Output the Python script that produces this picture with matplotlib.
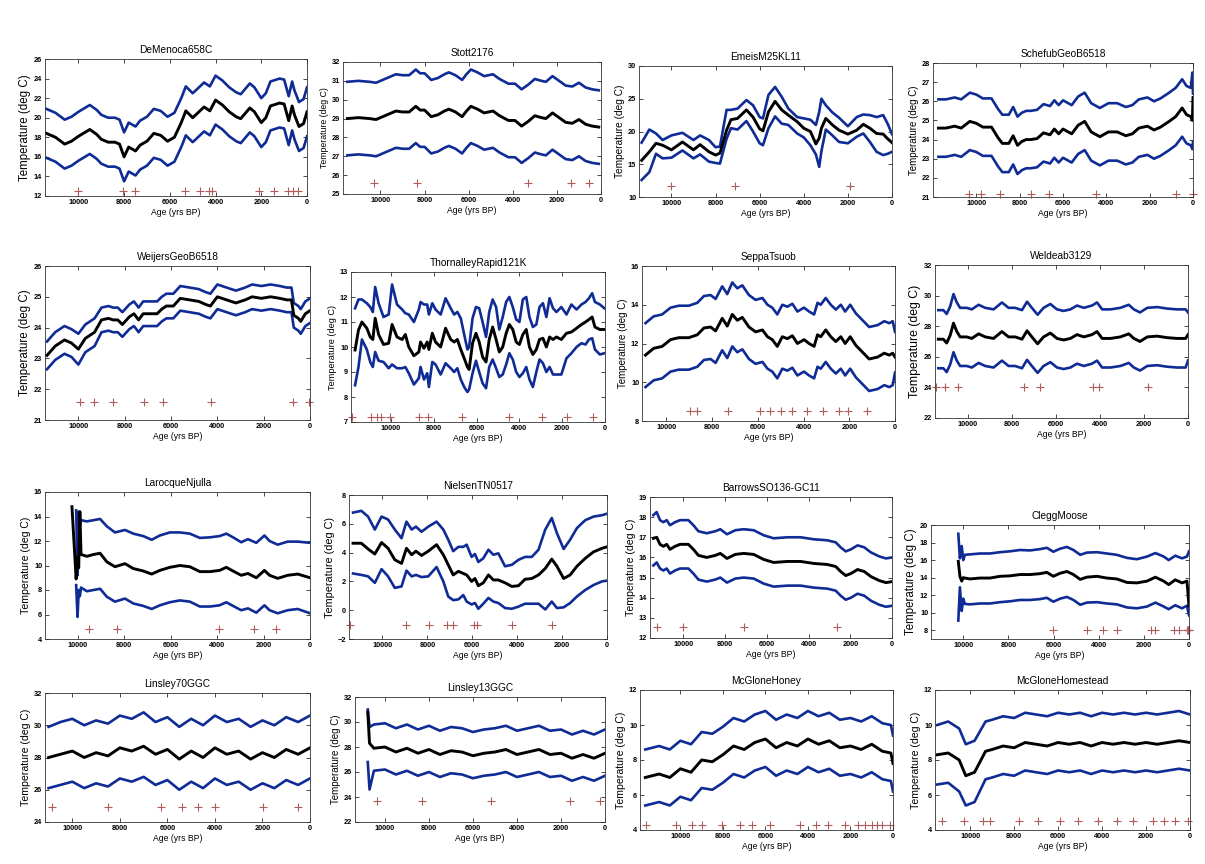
import numpy as np
import matplotlib
matplotlib.use("Agg")
import matplotlib.pyplot as plt

plt.rcParams['font.family'] = ['Liberation Sans', 'DejaVu Sans']
plt.rcParams['font.weight'] = 'bold'

nan = np.nan
BLUE = '#0f2b95'
RED = '#b05c5c'

# DeMenoca658C
age_demenoca = [11400, 11000, 10600, 10300, 10000, 9500, 9200, 9000, 8700, 8400, 8200, 8000, 7800, 7500, 7300,
                7000, 6700, 6400, 6100, 5800, 5500, 5300, 5000, 4500, 4250, 4000, 3700, 3400, 3100, 2900,
                2500, 2300, 2000, 1800, 1600, 1200, 1000, 800, 650, 550, 350, 150, 0]
mean_demenoca = [18.4, 18.0, 17.3, 17.6, 18.1, 18.8, 18.3, 17.8, 17.5, 17.5, 17.3, 16.0, 17.0, 16.6, 17.2,
                 17.6, 18.4, 18.2, 17.6, 18.0, 19.5, 20.7, 20.0, 21.1, 20.7, 21.8, 21.3, 20.6, 20.1, 19.9,
                 21.0, 20.6, 19.5, 20.0, 21.2, 21.5, 21.4, 19.7, 21.2, 20.3, 19.1, 19.4, 20.6]
upper_demenoca = [20.9, 20.5, 19.8, 20.1, 20.6, 21.3, 20.8, 20.3, 20.0, 20.0, 19.8, 18.5, 19.5, 19.1, 19.7,
                  20.1, 20.9, 20.7, 20.1, 20.5, 22.0, 23.2, 22.5, 23.6, 23.2, 24.3, 23.8, 23.1, 22.6, 22.4,
                  23.5, 23.1, 22.0, 22.5, 23.7, 24.0, 23.9, 22.2, 23.7, 22.8, 21.6, 21.9, 23.1]
lower_demenoca = [15.9, 15.5, 14.8, 15.1, 15.6, 16.3, 15.8, 15.3, 15.0, 15.0, 14.8, 13.5, 14.5, 14.1, 14.7,
                  15.1, 15.9, 15.7, 15.1, 15.5, 17.0, 18.2, 17.5, 18.6, 18.2, 19.3, 18.8, 18.1, 17.6, 17.4,
                  18.5, 18.1, 17.0, 17.5, 18.7, 19.0, 18.9, 17.2, 18.7, 17.8, 16.6, 16.9, 18.1]
dates_demenoca = [10000, 8030, 7520, 5330, 4670, 4300, 4160, 2120, 1430, 850, 610, 390]

# Stott2176
age_stott = [11500, 11000, 10500, 10200, 10000, 9700, 9300, 9000, 8700, 8400, 8200, 8000, 7700, 7400, 7100,
             6900, 6600, 6300, 6100, 5900, 5600, 5300, 4900, 4600, 4200, 3900, 3600, 3300, 3000, 2700,
             2500, 2200, 1900, 1600, 1300, 1000, 700, 400, 100]
mean_stott = [29.0, 29.05, 29.0, 28.95, 29.05, 29.2, 29.4, 29.35, 29.35, 29.65, 29.45, 29.45, 29.1, 29.2, 29.4,
              29.5, 29.35, 29.1, 29.4, 29.65, 29.5, 29.3, 29.4, 29.15, 28.9, 28.9, 28.6, 28.85, 29.15, 29.05,
              29.0, 29.3, 29.05, 28.8, 28.75, 28.95, 28.7, 28.6, 28.55]
upper_stott = [30.95, 31.0, 30.95, 30.9, 31.0, 31.15, 31.35, 31.3, 31.3, 31.6, 31.4, 31.4, 31.05, 31.15, 31.35,
               31.45, 31.3, 31.05, 31.35, 31.6, 31.45, 31.25, 31.35, 31.1, 30.85, 30.85, 30.55, 30.8, 31.1, 31.0,
               30.95, 31.25, 31.0, 30.75, 30.7, 30.9, 30.65, 30.55, 30.5]
lower_stott = [27.05, 27.1, 27.05, 27.0, 27.1, 27.25, 27.45, 27.4, 27.4, 27.7, 27.5, 27.5, 27.15, 27.25, 27.45,
               27.55, 27.4, 27.15, 27.45, 27.7, 27.55, 27.35, 27.45, 27.2, 26.95, 26.95, 26.65, 26.9, 27.2, 27.1,
               27.05, 27.35, 27.1, 26.85, 26.8, 27.0, 26.75, 26.65, 26.6]
dates_stott = [10300, 8350, 3300, 1380, 560]

# EmeisM25KL11
age_emeis = [11350, 11000, 10700, 10400, 10000, 9500, 9000, 8700, 8300, 8000, 7800, 7500, 7300, 7000, 6600,
             6300, 6000, 5850, 5600, 5300, 5000, 4700, 4300, 4000, 3700, 3450, 3300, 3200, 3000, 2700,
             2400, 2000, 1600, 1300, 1000, 700, 400, 200, 0]
mean_emeis = [15.6, 16.9, 18.2, 17.9, 17.2, 18.4, 17.2, 18.0, 16.9, 16.4, 16.7, 20.2, 21.8, 22.0, 23.3,
              22.2, 20.4, 20.1, 23.0, 24.6, 23.3, 22.5, 21.5, 20.5, 20.0, 18.1, 19.0, 20.5, 22.0, 21.0,
              20.2, 19.6, 20.2, 21.1, 20.5, 19.7, 19.6, 18.9, 18.3]
upper_emeis = [18.3, 20.3, 19.7, 18.7, 19.4, 19.8, 18.7, 19.4, 18.7, 17.6, 17.7, 23.3, 23.3, 23.5, 24.8,
               24.0, 22.2, 22.0, 25.6, 26.8, 25.3, 23.5, 22.2, 22.0, 21.8, 21.0, 23.0, 25.0, 24.0, 22.9,
               22.1, 20.8, 22.2, 22.6, 22.5, 22.2, 22.5, 21.2, 19.6]
lower_emeis = [12.6, 13.8, 16.6, 15.9, 16.0, 17.1, 15.9, 16.5, 15.4, 15.2, 15.1, 18.9, 20.5, 20.3, 21.6,
               20.0, 18.2, 17.9, 20.5, 22.3, 21.2, 21.0, 19.7, 19.1, 17.9, 16.5, 14.6, 17.0, 20.3, 19.4,
               18.4, 18.2, 19.2, 19.7, 18.4, 16.9, 16.4, 16.6, 16.9]
dates_emeis = [10000, 7130, 1920]

# SchefubGeoB6518
age_schefub = [11750, 11400, 11000, 10700, 10300, 10000, 9700, 9300, 9000, 8800, 8500, 8300, 8100, 7900,
               7700, 7500, 7200, 6900, 6600, 6400, 6200, 6000, 5600, 5300, 5000, 4700, 4300, 3900, 3500,
               3100, 2800, 2500, 2100, 1800, 1500, 1100, 800, 500, 300, 100, 30, 0]
mean_schefub = [24.6, 24.6, 24.7, 24.6, 24.95, 24.85, 24.65, 24.65, 24.1, 23.8, 23.8, 24.2, 23.7, 23.9,
                24.0, 24.0, 24.05, 24.35, 24.25, 24.55, 24.3, 24.55, 24.3, 24.75, 24.95, 24.4, 24.15, 24.4, 24.4,
                24.2, 24.3, 24.6, 24.7, 24.5, 24.65, 24.95, 25.2, 25.65, 25.3, 25.2, 25.0, 26.2]
upper_schefub = [26.1, 26.1, 26.2, 26.1, 26.45, 26.35, 26.15, 26.15, 25.6, 25.3, 25.3, 25.7, 25.2, 25.4,
                 25.5, 25.5, 25.55, 25.85, 25.75, 26.05, 25.8, 26.05, 25.8, 26.25, 26.45, 25.9, 25.65, 25.9, 25.9,
                 25.7, 25.8, 26.1, 26.2, 26.0, 26.15, 26.45, 26.7, 27.15, 26.8, 26.7, 27.5, 26.4]
lower_schefub = [23.1, 23.1, 23.2, 23.1, 23.45, 23.35, 23.15, 23.15, 22.6, 22.3, 22.3, 22.7, 22.2, 22.4,
                 22.5, 22.5, 22.55, 22.85, 22.75, 23.05, 22.8, 23.05, 22.8, 23.25, 23.45, 22.9, 22.65, 22.9, 22.9,
                 22.7, 22.8, 23.1, 23.2, 23.0, 23.15, 23.45, 23.7, 24.15, 23.8, 23.7, 23.5, 23.9]
dates_schefub = [10350, 9770, 8920, 7460, 6630, 4460, 800, 20]

# WeijersGeoB6518
age_weijers = [11350, 11000, 10600, 10300, 10000, 9700, 9300, 9000, 8700, 8500, 8300, 8100, 7800, 7600,
               7400, 7200, 6900, 6600, 6400, 6200, 5900, 5600, 5200, 4800, 4500, 4300, 4000, 3600, 3200,
               2800, 2500, 2100, 1700, 1300, 1000, 800, 700, 500, 400, 200, 0]
mean_weijers = [23.1, 23.4, 23.6, 23.5, 23.3, 23.65, 23.85, 24.25, 24.3, 24.25, 24.25, 24.1, 24.35, 24.45,
                24.25, 24.45, 24.45, 24.45, 24.6, 24.7, 24.7, 24.95, 24.9, 24.85, 24.75, 24.7, 25.0, 24.9, 24.8,
                24.9, 25.0, 24.95, 25.0, 24.95, 24.9, 24.9, 24.4, 24.3, 24.2, 24.45, 24.55]
upper_weijers = [23.55, 23.85, 24.05, 23.95, 23.8, 24.1, 24.3, 24.65, 24.7, 24.65, 24.65, 24.5, 24.75, 24.85,
                 24.65, 24.85, 24.85, 24.85, 25.0, 25.1, 25.1, 25.35, 25.3, 25.25, 25.15, 25.1, 25.4, 25.3, 25.2,
                 25.3, 25.4, 25.35, 25.4, 25.35, 25.3, 25.3, 24.8, 24.7, 24.6, 24.85, 24.95]
lower_weijers = [22.65, 22.95, 23.15, 23.05, 22.8, 23.2, 23.4, 23.85, 23.9, 23.85, 23.85, 23.7, 23.95, 24.05,
                 23.85, 24.05, 24.05, 24.05, 24.2, 24.3, 24.3, 24.55, 24.5, 24.45, 24.35, 24.3, 24.6, 24.5, 24.4,
                 24.5, 24.6, 24.55, 24.6, 24.55, 24.5, 24.5, 24.0, 23.9, 23.8, 24.05, 24.15]
dates_weijers = [9930, 9320, 8520, 7150, 6350, 4280, 730, 60]

# ThornalleyRapid121K
age_thornalley = [11680, 11520, 11360, 11130, 10970, 10850, 10740, 10580, 10350, 10110,
                  9950, 9720, 9480, 9330, 9170, 8930, 8700, 8620, 8460, 8310,
                  8230, 8070, 7920, 7680, 7450, 7210, 7050, 6900, 6740, 6580,
                  6430, 6350, 6190, 6030, 5880, 5720, 5560, 5410, 5250, 5090,
                  4940, 4780, 4620, 4470, 4310, 4150, 4000, 3840, 3680, 3530,
                  3370, 3210, 3060, 2900, 2740, 2590, 2430, 2270, 2040, 1800,
                  1570, 1330, 1100, 910, 750, 600, 470, 240, 30]
mean_thornalley = [9.88, 10.68, 11.0, 10.75, 10.4, 10.3, 11.15, 10.5, 10.1, 10.15,
                   10.9, 10.4, 10.3, 10.5, 10.0, 9.65, 9.8, 10.2, 9.95, 10.2,
                   9.9, 10.55, 10.2, 10.0, 10.75, 10.3, 10.2, 10.3, 9.9, 9.55,
                   9.2, 9.1, 10.15, 10.55, 10.2, 9.6, 9.4, 10.3, 10.8, 10.3,
                   9.8, 10.0, 10.55, 10.9, 10.7, 10.2, 10.1, 10.5, 10.7, 10.0,
                   9.7, 9.9, 10.3, 10.35, 10.0, 10.4, 10.3, 10.4, 10.3, 10.55,
                   10.6, 10.75, 10.9, 11.0, 11.1, 11.2, 10.8, 10.7, 10.7]
upper_thornalley = [11.55, 11.9, 11.9, 11.75, 11.6, 11.4, 12.4, 11.75, 11.2, 11.3,
                    12.5, 11.7, 11.5, 11.35, 11.3, 11.0, 11.5, 11.8, 11.7, 11.7,
                    11.3, 11.75, 11.5, 11.3, 11.95, 11.55, 11.3, 11.4, 11.15, 10.5,
                    9.9, 10.0, 11.15, 11.6, 11.55, 11.0, 10.4, 11.4, 11.9, 11.6,
                    10.7, 11.2, 11.8, 12.0, 11.6, 11.1, 11.0, 11.9, 12.0, 11.2,
                    10.8, 10.9, 11.6, 11.75, 11.2, 11.95, 11.55, 11.4, 11.6, 11.3,
                    11.7, 11.5, 11.7, 11.8, 11.95, 12.15, 11.8, 11.7, 11.55]
lower_thornalley = [8.47, 9.2, 10.3, 9.9, 9.4, 9.2, 9.8, 9.45, 9.4, 9.15,
                    9.3, 9.15, 9.15, 9.2, 8.95, 8.5, 8.75, 9.2, 8.7, 8.95,
                    8.4, 9.4, 9.3, 8.9, 9.35, 9.15, 9.0, 9.15, 8.7, 8.4,
                    8.2, 8.3, 8.95, 9.45, 9.0, 8.55, 8.35, 9.2, 9.5, 9.15,
                    8.8, 8.9, 9.3, 9.75, 9.5, 9.0, 8.8, 8.95, 9.2, 8.7,
                    8.4, 9.0, 9.5, 9.35, 9.0, 9.2, 8.9, 8.9, 8.9, 9.55,
                    9.75, 10.0, 10.15, 10.1, 10.3, 10.35, 9.9, 9.7, 9.75]
dates_thornalley = [11800, 10940, 10660, 10450, 10060, 8700, 8260, 6690, 4500, 2930, 1770, 580]

# SeppaTsuob
age_seppa = [10920, 10560, 10190, 9820, 9460, 9020, 8650, 8360, 8070, 7850, 7560, 7340, 7120, 6900, 6680,
             6390, 6100, 5800, 5580, 5370, 5150, 4930, 4710, 4490, 4270, 3980, 3760, 3540, 3390, 3250,
             3030, 2810, 2590, 2370, 2180, 1960, 1710, 1420, 1130, 760, 470, 250, 100, 0]
mean_seppa = [11.4, 11.75, 11.85, 12.2, 12.3, 12.3, 12.45, 12.8, 12.85, 12.65, 13.3, 12.9, 13.5, 13.2, 13.35,
              12.85, 12.6, 12.7, 12.35, 12.2, 11.85, 12.35, 12.25, 12.4, 12.0, 12.2, 12.0, 11.85, 12.45, 12.35,
              12.7, 12.35, 12.1, 12.35, 12.0, 12.35, 11.9, 11.55, 11.2, 11.3, 11.5, 11.4, 11.5, 11.3]
upper_seppa = [13.05, 13.4, 13.5, 13.85, 13.95, 13.95, 14.1, 14.45, 14.5, 14.3, 14.95, 14.55, 15.15, 14.85, 15.0,
               14.5, 14.25, 14.35, 14.0, 13.85, 13.5, 14.0, 13.9, 14.05, 13.65, 13.85, 13.65, 13.5, 14.1, 14.0,
               14.35, 14.0, 13.75, 14.0, 13.65, 14.0, 13.55, 13.2, 12.85, 12.95, 13.15, 13.05, 13.15, 12.6]
lower_seppa = [9.75, 10.1, 10.2, 10.55, 10.65, 10.65, 10.8, 11.15, 11.2, 11.0, 11.65, 11.25, 11.85, 11.55, 11.7,
               11.2, 10.95, 11.05, 10.7, 10.55, 10.2, 10.7, 10.6, 10.75, 10.35, 10.55, 10.35, 10.2, 10.8, 10.7,
               11.05, 10.7, 10.45, 10.7, 10.35, 10.7, 10.25, 9.9, 9.55, 9.65, 9.85, 9.75, 9.85, 10.5]
dates_seppa = [8980, 8650, 7310, 5910, 5480, 5000, 4490, 3870, 3140, 2470, 2050, 1240]

# Weldeab3129
age_weldeab = [11340, 11110, 10960, 10800, 10650, 10500, 10350, 10050, 9820, 9510, 9210, 8830, 8450, 8150,
               7850, 7540, 7310, 7090, 6830, 6560, 6250, 5950, 5650, 5340, 5040, 4730, 4360, 4130, 3900,
               3520, 3070, 2690, 2460, 2180, 1850, 1400, 940, 490, 110, 0]
mean_weldeab = [27.15, 27.15, 26.9, 27.4, 28.2, 27.65, 27.3, 27.3, 27.2, 27.5, 27.3, 27.2, 27.65, 27.3,
                27.3, 27.15, 27.7, 27.3, 26.85, 27.3, 27.55, 27.2, 27.1, 27.2, 27.45, 27.3, 27.45, 27.65, 27.2,
                27.2, 27.3, 27.5, 27.2, 27.0, 27.3, 27.35, 27.25, 27.2, 27.2, 27.45]
upper_weldeab = [29.05, 29.05, 28.8, 29.3, 30.1, 29.55, 29.2, 29.2, 29.1, 29.4, 29.2, 29.1, 29.55, 29.2,
                 29.2, 29.05, 29.6, 29.2, 28.75, 29.2, 29.45, 29.1, 29.0, 29.1, 29.35, 29.2, 29.35, 29.55, 29.1,
                 29.1, 29.2, 29.4, 29.1, 28.9, 29.2, 29.25, 29.15, 29.1, 29.1, 28.9]
lower_weldeab = [25.25, 25.25, 25.0, 25.5, 26.3, 25.75, 25.4, 25.4, 25.3, 25.6, 25.4, 25.3, 25.75, 25.4,
                 25.4, 25.25, 25.8, 25.4, 24.95, 25.4, 25.65, 25.3, 25.2, 25.3, 25.55, 25.4, 25.55, 25.75, 25.3,
                 25.3, 25.4, 25.6, 25.3, 25.1, 25.4, 25.45, 25.35, 25.3, 25.3, 25.75]
dates_weldeab = [11440, 11040, 10430, 7440, 6740, 4320, 4020, 1820]

# LarocqueNjulla
age_larocque = [10240, 10060, 10000, 9950, 9900, 9850, 9600, 9310, 9030, 8740, 8390, 7960, 7600, 7170, 6810,
                6460, 6030, 5600, 5170, 4740, 4310, 3890, 3600, 3310, 2960, 2670, 2310, 1960, 1740, 1390,
                960, 530, 0]
mean_larocque = [14.8, 8.9, 10.7, 9.8, 14.4, 10.9, 10.75, 10.9, 11.0, 10.3, 9.9, 10.15, 9.75, 9.55, 9.3,
                 9.6, 9.85, 10.0, 9.9, 9.5, 9.5, 9.6, 9.85, 9.55, 9.2, 9.35, 9.0, 9.6, 9.2, 8.95,
                 9.2, 9.3, 9.0]
upper_larocque = [nan, 14.5, 9.2, 14.4, 13.3, 13.7, 13.6, 13.7, 13.8, 13.2, 12.7, 12.9, 12.6, 12.4, 12.1,
                  12.45, 12.7, 12.7, 12.6, 12.25, 12.3, 12.4, 12.6, 12.3, 11.9, 12.15, 11.85, 12.45, 12.0, 11.7,
                  11.95, 11.95, 11.85]
lower_larocque = [nan, 8.4, 5.8, 8.0, 7.5, 8.2, 7.9, 8.0, 8.1, 7.45, 7.05, 7.3, 6.9, 6.7, 6.45,
                  6.75, 7.0, 7.15, 7.05, 6.65, 6.65, 6.75, 7.0, 6.7, 6.35, 6.5, 6.15, 6.75, 6.35, 6.1,
                  6.35, 6.45, 6.1]
dates_larocque = [9490, 8310, 3930, 2390, 1460]

# NielsenTN0517
age_nielsen = [11310, 10940, 10640, 10340, 10040, 9750, 9450, 9150, 8930, 8700, 8510, 8260, 7960, 7590, 7290,
               7070, 6850, 6620, 6400, 6250, 6030, 5880, 5730, 5510, 5280, 5060, 4840, 4540, 4240, 3940,
               3650, 3350, 3050, 2750, 2460, 2230, 1930, 1640, 1340, 970, 600, 220, 0]
mean_nielsen = [4.65, 4.65, 4.25, 3.9, 4.7, 4.3, 3.5, 3.25, 4.3, 3.85, 4.1, 3.8, 4.1, 4.55, 3.85,
                3.15, 2.45, 2.7, 2.55, 2.45, 2.0, 2.2, 1.7, 1.9, 2.45, 2.1, 2.1, 1.9, 1.65, 1.7,
                2.15, 2.2, 2.45, 2.9, 3.55, 3.05, 2.2, 2.45, 3.05, 3.6, 4.05, 4.3, 4.4]
upper_nielsen = [6.78, 6.9, 6.5, 5.6, 6.5, 6.3, 5.6, 5.0, 6.15, 5.6, 5.8, 5.45, 5.8, 6.15, 5.6,
                 4.9, 4.1, 4.4, 4.4, 4.55, 3.7, 3.9, 3.35, 3.6, 4.2, 3.85, 3.95, 3.05, 3.15, 3.5,
                 3.7, 3.7, 4.2, 5.6, 6.4, 5.35, 4.25, 4.9, 5.7, 6.25, 6.5, 6.6, 6.7]
lower_nielsen = [2.55, 2.45, 2.35, 1.9, 2.85, 2.35, 1.55, 1.65, 2.75, 2.35, 2.45, 2.3, 2.35, 3.0, 2.0,
                 0.95, 0.7, 0.75, 1.05, 0.6, 0.4, 0.5, 0.1, 0.45, 0.85, 0.6, 0.5, 0.15, 0.1, 0.25,
                 0.45, 0.45, 0.45, 0.05, 0.6, 0.15, 0.2, 0.5, 0.95, 1.4, 1.75, 2.0, 2.05]
dates_nielsen = [11460, 8960, 7920, 7140, 6880, 5920, 5800, 4240, 2460]

# BarrowsSO136-GC11
age_barrows = [11440, 11280, 11120, 10960, 10800, 10640, 10400, 10160, 9920, 9760, 9520, 9280, 8880, 8470,
               8230, 7910, 7510, 7110, 6630, 6150, 5670, 5020, 4380, 3740, 3100, 2700, 2460, 2220, 1970,
               1650, 1330, 1010, 610, 290, 0]
mean_barrows = [16.95, 17.0, 16.65, 16.55, 16.65, 16.4, 16.55, 16.65, 16.65, 16.65, 16.4, 16.1, 16.0, 16.1,
                16.2, 15.95, 16.15, 16.2, 16.15, 15.9, 15.75, 15.8, 15.8, 15.7, 15.65, 15.55, 15.3, 15.1, 15.2,
                15.4, 15.3, 15.05, 14.85, 14.75, 14.8]
upper_barrows = [18.1, 18.25, 17.85, 17.75, 17.85, 17.6, 17.75, 17.85, 17.85, 17.85, 17.6, 17.3, 17.2, 17.3,
                 17.4, 17.15, 17.35, 17.4, 17.35, 17.1, 16.95, 17.0, 17.0, 16.9, 16.85, 16.75, 16.5, 16.3, 16.4,
                 16.6, 16.5, 16.25, 16.05, 15.95, 16.0]
lower_barrows = [15.6, 15.75, 15.45, 15.35, 15.45, 15.2, 15.35, 15.45, 15.45, 15.45, 15.2, 14.9, 14.8, 14.9,
                 15.0, 14.75, 14.95, 15.0, 14.95, 14.7, 14.55, 14.6, 14.6, 14.5, 14.45, 14.35, 14.1, 13.9, 14.0,
                 14.2, 14.1, 13.85, 13.65, 13.55, 13.6]
dates_barrows = [11280, 10000, 7110, 2660]

# CleggMoose
age_clegg = [10220, 10150, 10070, 10000, 9930, 9700, 9260, 8820, 8370, 7930, 7490, 7040, 6600, 6300, 6010,
             5710, 5410, 5120, 4820, 4530, 4080, 3640, 3200, 2750, 2310, 1860, 1490, 1120, 900, 610,
             310, 90, 0]
mean_clegg = [15.85, 14.15, 13.6, 14.0, 13.95, 13.85, 13.95, 13.95, 14.15, 14.2, 14.35, 14.35, 14.45, 14.6, 14.15,
              14.5, 14.7, 14.35, 13.8, 14.05, 14.15, 13.95, 13.85, 13.45, 13.4, 13.6, 14.05, 13.6, 13.2, 13.75,
              13.4, 13.6, 10.75]
upper_clegg = [19.0, 16.2, 17.6, 16.0, 16.6, 16.65, 16.75, 16.75, 16.9, 17.0, 17.15, 17.1, 17.25, 17.4, 16.95,
               17.3, 17.5, 17.15, 16.6, 16.85, 16.9, 16.75, 16.6, 16.25, 16.1, 16.4, 16.8, 16.4, 16.0, 16.5,
               16.2, 16.4, 17.0]
lower_clegg = [9.1, 12.9, 10.2, 11.6, 11.0, 10.95, 11.05, 11.05, 11.2, 11.3, 11.45, 11.45, 11.55, 11.7, 11.25,
               11.6, 11.8, 11.45, 10.9, 11.15, 11.2, 11.05, 10.95, 10.6, 10.5, 10.7, 11.15, 10.7, 10.4, 10.85,
               10.5, 10.8, 9.7]
dates_clegg = [6040, 4530, 3790, 3170, 1690, 1490, 650, 440, 90, 60, 40, 20, 0]

# Linsley70GGC
age_linsley70 = [11000, 10500, 10000, 9500, 9000, 8500, 8000, 7500, 7000, 6500, 6000, 5500, 5000, 4500,
                 4000, 3500, 3000, 2500, 2000, 1500, 1000, 500, 0]
mean_linsley70 = [28.0, 28.2, 28.4, 28.0, 28.3, 28.1, 28.6, 28.4, 28.7, 28.2, 28.5, 27.9, 28.4, 28.0,
                  28.6, 28.2, 28.4, 27.9, 28.3, 28.0, 28.5, 28.2, 28.6]
upper_linsley70 = [29.9, 30.2, 30.4, 30.0, 30.3, 30.1, 30.6, 30.4, 30.8, 30.2, 30.5, 29.9, 30.4, 30.0,
                   30.6, 30.2, 30.4, 29.9, 30.3, 30.0, 30.5, 30.2, 30.6]
lower_linsley70 = [26.1, 26.3, 26.5, 26.1, 26.4, 26.2, 26.7, 26.5, 26.8, 26.3, 26.6, 26.0, 26.5, 26.1,
                   26.7, 26.3, 26.5, 26.0, 26.4, 26.1, 26.6, 26.3, 26.7]
dates_linsley70 = [10850, 8510, 6260, 5400, 4720, 4000, 1960, 510]

# Linsley13GGC
age_linsley13 = [10780, 10700, 10500, 10000, 9500, 9000, 8500, 8000, 7500, 7000, 6500, 6000, 5500, 5000,
                 4500, 4000, 3500, 3000, 2500, 2000, 1500, 1000, 500, 0]
mean_linsley13 = [30.8, 28.3, 27.9, 28.0, 27.6, 27.9, 27.5, 27.8, 27.4, 27.7, 27.6, 27.3, 27.5, 27.6,
                  27.8, 27.4, 27.6, 27.8, 27.4, 27.5, 27.1, 27.4, 27.1, 27.5]
upper_linsley13 = [31.0, 29.6, 29.8, 29.9, 29.5, 29.8, 29.4, 29.7, 29.3, 29.6, 29.5, 29.2, 29.4, 29.5,
                   29.7, 29.3, 29.5, 29.7, 29.3, 29.4, 29.0, 29.3, 29.0, 29.4]
lower_linsley13 = [26.8, 24.6, 26.1, 26.2, 25.8, 26.1, 25.7, 26.0, 25.6, 25.9, 25.8, 25.5, 25.7, 25.8,
                   26.0, 25.6, 25.8, 26.0, 25.6, 25.7, 25.3, 25.6, 25.3, 25.7]
dates_linsley13 = [10360, 8320, 5180, 1590, 230]

# McGloneHoney
age_honey = [11650, 11000, 10500, 10000, 9500, 9000, 8500, 8000, 7500, 7000, 6500, 6000, 5500, 5000, 4500,
             4000, 3500, 3000, 2500, 2000, 1500, 1000, 500, 100, 0]
mean_honey = [7.0, 7.2, 7.0, 7.5, 7.3, 8.0, 7.9, 8.3, 8.8, 8.6, 9.0, 9.2, 8.7, 9.0, 8.8,
              9.2, 8.9, 9.1, 8.7, 8.8, 8.6, 8.9, 8.5, 8.4, 7.8]
upper_honey = [8.6, 8.8, 8.6, 9.1, 8.9, 9.6, 9.5, 9.9, 10.4, 10.2, 10.6, 10.8, 10.3, 10.6, 10.4,
               10.8, 10.5, 10.7, 10.3, 10.4, 10.2, 10.5, 10.1, 10.0, 9.4]
lower_honey = [5.4, 5.6, 5.4, 5.9, 5.7, 6.4, 6.3, 6.7, 7.2, 7.0, 7.4, 7.6, 7.1, 7.4, 7.2,
               7.6, 7.3, 7.5, 7.1, 7.2, 7.0, 7.3, 6.9, 6.8, 6.2]
dates_honey = [11640, 10230, 9440, 8970, 8030, 7180, 6620, 5770, 4370, 3620, 3050, 2250, 1640, 1310, 990,
               750, 520, 140]

# McGloneHomestead
age_homestead = [11500, 11000, 10500, 10200, 9800, 9300, 9000, 8500, 8000, 7500, 7000, 6500, 6000, 5500,
                 5000, 4500, 4000, 3500, 3000, 2500, 2000, 1500, 1000, 500, 0]
mean_homestead = [8.3, 8.4, 8.0, 7.1, 7.3, 8.5, 8.6, 8.8, 8.7, 9.0, 8.9, 8.8, 9.0, 8.9,
                  9.0, 8.8, 9.0, 8.9, 9.0, 8.9, 9.0, 8.9, 9.0, 9.1, 9.0]
upper_homestead = [10.0, 10.2, 9.8, 8.9, 9.1, 10.2, 10.3, 10.5, 10.4, 10.7, 10.6, 10.5, 10.7, 10.6,
                   10.7, 10.5, 10.7, 10.6, 10.7, 10.6, 10.7, 10.6, 10.7, 10.8, 10.6]
lower_homestead = [6.6, 6.7, 6.2, 5.4, 5.6, 6.9, 7.0, 7.2, 7.1, 7.4, 7.3, 7.2, 7.4, 7.3,
                   7.4, 7.2, 7.4, 7.3, 7.4, 7.3, 7.4, 7.3, 7.4, 7.5, 7.4]
dates_homestead = [11300, 10300, 9400, 9100, 7800, 6900, 5900, 5100, 4200, 3300, 2600, 1700, 1200, 700, 100]

# level at which the dating "+" marks sit
date_level = [12.5, 25.6, 11.7, 21.15, 21.6, 7.2, 8.5, 24.0, 4.8, -1.0, 12.55, 8.0, 24.9, 23.7, 4.3, 4.5]

panels = [
    ("DeMenoca658C", age_demenoca, mean_demenoca, upper_demenoca, lower_demenoca, dates_demenoca),
    ("Stott2176", age_stott, mean_stott, upper_stott, lower_stott, dates_stott),
    ("EmeisM25KL11", age_emeis, mean_emeis, upper_emeis, lower_emeis, dates_emeis),
    ("SchefubGeoB6518", age_schefub, mean_schefub, upper_schefub, lower_schefub, dates_schefub),
    ("WeijersGeoB6518", age_weijers, mean_weijers, upper_weijers, lower_weijers, dates_weijers),
    ("ThornalleyRapid121K", age_thornalley, mean_thornalley, upper_thornalley, lower_thornalley, dates_thornalley),
    ("SeppaTsuob", age_seppa, mean_seppa, upper_seppa, lower_seppa, dates_seppa),
    ("Weldeab3129", age_weldeab, mean_weldeab, upper_weldeab, lower_weldeab, dates_weldeab),
    ("LarocqueNjulla", age_larocque, mean_larocque, upper_larocque, lower_larocque, dates_larocque),
    ("NielsenTN0517", age_nielsen, mean_nielsen, upper_nielsen, lower_nielsen, dates_nielsen),
    ("BarrowsSO136-GC11", age_barrows, mean_barrows, upper_barrows, lower_barrows, dates_barrows),
    ("CleggMoose", age_clegg, mean_clegg, upper_clegg, lower_clegg, dates_clegg),
    ("Linsley70GGC", age_linsley70, mean_linsley70, upper_linsley70, lower_linsley70, dates_linsley70),
    ("Linsley13GGC", age_linsley13, mean_linsley13, upper_linsley13, lower_linsley13, dates_linsley13),
    ("McGloneHoney", age_honey, mean_honey, upper_honey, lower_honey, dates_honey),
    ("McGloneHomestead", age_homestead, mean_homestead, upper_homestead, lower_homestead, dates_homestead),
]

# axes boxes in pixels: left, top, right, bottom
boxes = [(45, 59, 307, 196), (343, 62, 601, 194), (639, 66, 892, 197), (933, 63, 1193, 197),
         (45, 266, 310, 420), (351, 272, 605, 422), (642, 266, 895, 421), (935, 265, 1188, 418),
         (45, 492, 310, 639), (349, 495, 607, 639), (650, 497, 892, 638), (931, 525, 1189, 639),
         (45, 693, 310, 822), (355, 697, 605, 822), (640, 690, 893, 830), (935, 690, 1190, 830)]

# oldest age on the axis, y range and y tick step
xmax = [11460, 11700, 11470, 12000, 11440, 11870, 11070, 11490,
        11400, 11490, 11600, 11430, 11150, 11360, 11900, 11600]
yrange = [(12, 26, 2), (25, 32, 1), (10, 30, 5), (21, 28, 1), (21, 26, 1), (7, 13, 1), (8, 16, 2), (22, 32, 2),
          (4, 16, 2), (-2, 8, 2), (12, 19, 1), (7, 20, 2), (24, 32, 2), (22, 32, 2), (4, 12, 2), (4, 12, 2)]
ylab_size = [8.3, 6.3, 7.3, 7.0, 8.3, 6.6, 7.0, 8.8, 7.6, 7.8, 7.6, 8.3, 7.6, 7.0, 7.6, 7.6]

W, H = 1205, 864
fig = plt.figure(figsize=(W / 100, H / 100), dpi=100)
fig.patch.set_facecolor('white')

for i, (name, age, mean, upper, lower, dates) in enumerate(panels):
    l, t, r, b = boxes[i]
    ax = fig.add_axes([l / W, 1 - b / H, (r - l) / W, (b - t) / H])
    ax.plot(age, upper, color=BLUE, lw=1.9, solid_joinstyle='round')
    ax.plot(age, lower, color=BLUE, lw=1.9, solid_joinstyle='round')
    ax.plot(age, mean, color='black', lw=2.1, solid_joinstyle='round')
    ax.plot(dates, [date_level[i]] * len(dates), linestyle='none', marker='+',
            color=RED, markersize=6, markeredgewidth=0.8, clip_on=False)

    ylo, yhi, step = yrange[i]
    ax.set_xlim(xmax[i], 0)
    ax.set_ylim(ylo, yhi)
    first = ylo if ylo % step == 0 else ylo + 1
    ax.set_yticks(np.arange(first, yhi + 0.01, step))
    ax.set_xticks([10000, 8000, 6000, 4000, 2000, 0])

    ax.tick_params(direction='in', top=True, right=True, length=3, width=0.5,
                   labelsize=5.3, pad=2)
    for s in ax.spines.values():
        s.set_linewidth(0.6)
        s.set_color('#333333')
    ax.set_title(name, fontsize=7.3, pad=4)
    ax.set_xlabel('Age (yrs BP)', fontsize=6.2, labelpad=1.5)
    ax.set_ylabel('Temperature (deg C)', fontsize=ylab_size[i], labelpad=2)

fig.savefig('out.png', dpi=100, facecolor='white')
